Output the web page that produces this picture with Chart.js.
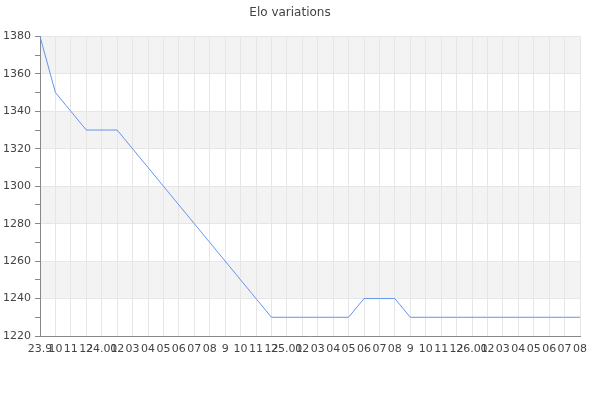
<!DOCTYPE html>
<html>
<head>
<meta charset="utf-8">
<title>Elo variations</title>
<script src="https://cdn.jsdelivr.net/npm/chart.js@4"></script>
<style>
    html, body { margin: 0; padding: 0; background: #fff; }
    #wrap { width: 600px; height: 400px; }
</style>
</head>
<body>
<div id="wrap"><canvas id="eloChart" width="600" height="400"></canvas></div>
<script>
// month ticks: yy.MM at the start of a year, MM otherwise
const monthLabels = ['23.9', '10', '11', '12',
    '24.01', '02', '03', '04', '05', '06', '07', '08', '9', '10', '11', '12',
    '25.01', '02', '03', '04', '05', '06', '07', '08', '9', '10', '11', '12',
    '26.01', '02', '03', '04', '05', '06', '07', '08'];

const eloValues = [1380, 1350, 1340, 1330,
    1330, 1330, 1320, 1310, 1300, 1290, 1280, 1270, 1260, 1250, 1240, 1230,
    1230, 1230, 1230, 1230, 1230, 1240, 1240, 1240, 1230, 1230, 1230, 1230,
    1230, 1230, 1230, 1230, 1230, 1230, 1230, 1230];

const yMin = 1220;
const yMax = 1380;
const majorStep = 20;
const minorStep = 10;

const gridColor = '#e6e6e6';
const axisColor = '#888888';
const bandColor = '#f3f3f3';
const textColor = '#444444';

// alternating grey bands between major y ticks, starting from the top
const bandPlugin = {
    id: 'bands',
    beforeDraw: function (chart) {
        const y = chart.scales.y;
        const area = chart.chartArea;
        const ctx = chart.ctx;
        ctx.save();
        ctx.fillStyle = bandColor;
        for (let v = y.max - majorStep; v >= y.min; v -= majorStep * 2) {
            const top = y.getPixelForValue(v + majorStep);
            const bottom = y.getPixelForValue(v);
            ctx.fillRect(area.left, top, area.right - area.left, bottom - top);
        }
        ctx.restore();
    }
};

Chart.defaults.font.family = "'DejaVu Sans', sans-serif";
Chart.defaults.font.size = 11;
Chart.defaults.color = textColor;

new Chart(document.getElementById('eloChart'), {
    type: 'line',
    data: {
        labels: monthLabels,
        datasets: [{
            label: 'Elo',
            data: eloValues,
            borderColor: '#6495ed',
            borderWidth: 1,
            pointRadius: 0,
            tension: 0,
            fill: false
        }]
    },
    options: {
        responsive: false,
        animation: false,
        devicePixelRatio: 1,
        layout: { padding: { left: 0, right: 20, top: 0, bottom: 0 } },
        plugins: {
            legend: { display: false },
            tooltip: { enabled: false },
            title: {
                display: true,
                text: 'Elo variations',
                color: textColor,
                font: { size: 12, weight: 'normal' },
                padding: { top: 6, bottom: 16 }
            }
        },
        scales: {
            x: {
                type: 'category',
                offset: false,
                grid: { color: gridColor, drawTicks: false },
                border: { color: axisColor },
                ticks: { autoSkip: false, maxRotation: 0, minRotation: 0, padding: 7, color: textColor },
                afterFit: function (scale) { scale.height = 64; }
            },
            y: {
                min: yMin,
                max: yMax,
                grid: {
                    color: function (c) { return c.tick && c.tick.value % majorStep === 0 ? gridColor : 'rgba(0,0,0,0)'; },
                    tickColor: axisColor,
                    tickLength: 5
                },
                border: { color: axisColor },
                ticks: {
                    stepSize: minorStep,
                    padding: 4,
                    color: textColor,
                    callback: function (v) { return v % majorStep === 0 ? v : ''; }
                },
                afterFit: function (scale) { scale.width = 40; }
            }
        }
    },
    plugins: [bandPlugin]
});
</script>
</body>
</html>
